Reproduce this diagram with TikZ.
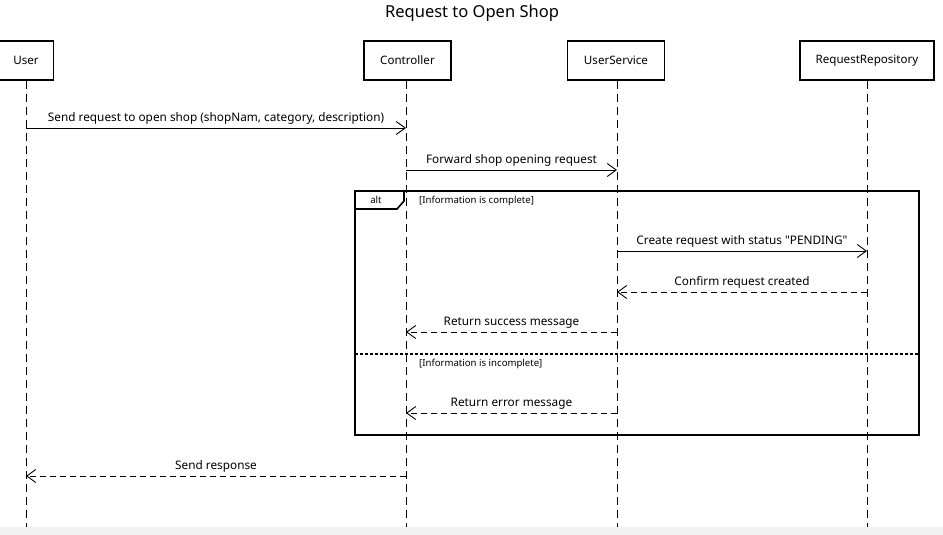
\documentclass[tikz,border=0pt]{standalone}
\usepackage{fontspec}
\setmainfont{Noto Sans}[Ligatures=TeXOff]
\usetikzlibrary{arrows.meta}
\begin{document}
\begin{tikzpicture}[x=1pt,y=-1pt,
  part/.style={draw=black,line width=1.6pt,fill=white,minimum height=39pt,inner sep=0pt,font=\fontsize{11.6}{13}\selectfont},
  life/.style={draw=black,line width=0.9pt,dash pattern=on 8pt off 5pt},
  sync/.style={draw=black,line width=0.9pt,-{Straight Barb[length=9pt,width=13pt,line width=0.9pt]}},
  reply/.style={draw=black,line width=0.9pt,dash pattern=on 6pt off 4pt,-{Straight Barb[length=9pt,width=13pt,line width=0.9pt]}},
  lbl/.style={font=\fontsize{11.8}{13}\selectfont,inner sep=0pt,above=3pt},
  guard/.style={font=\bfseries\fontsize{9.6}{11}\selectfont,anchor=west,inner sep=0pt},
  frame/.style={draw=black,line width=1.6pt}
]
\useasboundingbox (0,0) rectangle (943,535);
\fill[white] (0,0) rectangle (943,527);
\fill[black!5] (0,527) rectangle (943,535);

\node[font=\fontsize{16.5}{19}\selectfont] (title) at (472,13) {Request to Open Shop};

% participants
\node[part,minimum width=55pt] (user) at (26,60.5) {User};
\node[part,minimum width=87pt] (ctrl) at (407.5,60.5) {Controller};
\node[part,minimum width=97pt] (svc) at (616,60.5) {UserService};
\node[part,minimum width=134pt] (repo) at (867,60.5) {RequestRepository};

% lifeline ends
\coordinate (userEnd) at (26,527);
\coordinate (ctrlEnd) at (406,527);
\coordinate (svcEnd) at (617,527);
\coordinate (repoEnd) at (867,527);
\draw[life] (user.south -| userEnd) -- (userEnd);
\draw[life] (ctrl.south -| ctrlEnd) -- (ctrlEnd);
\draw[life] (svc.south -| svcEnd) -- (svcEnd);
\draw[life] (repo.south -| repoEnd) -- (repoEnd);

% alt frame
\coordinate (fTL) at (355,191);
\coordinate (fBR) at (919,435);
\draw[frame] (fTL) rectangle (fBR);
\draw[frame] (355,209) -- (397,209) -- (404,201) -- (404,191);
\node[font=\bfseries\fontsize{9.6}{11}\selectfont,inner sep=0pt] (altlbl) at (376,200) {alt};
\node[guard] (g1) at (419,200.5) {[Information is complete]};
\draw[draw=black,line width=1.6pt,dash pattern=on 3pt off 2pt] (355,354) -- (919,354);
\node[guard] (g2) at (419,363.5) {[Information is incomplete]};

% message endpoints
\coordinate (m1a) at (26,128);  \coordinate (m1b) at (406,128);
\coordinate (m2a) at (406,170); \coordinate (m2b) at (617,170);
\coordinate (m3a) at (617,251); \coordinate (m3b) at (867,251);
\coordinate (m4a) at (867,292); \coordinate (m4b) at (617,292);
\coordinate (m5a) at (617,332); \coordinate (m5b) at (406,332);
\coordinate (m6a) at (617,413); \coordinate (m6b) at (406,413);
\coordinate (m7a) at (406,476); \coordinate (m7b) at (26,476);

\draw[sync] (m1a) -- node[lbl] {Send request to open shop (shopNam, category, description)} (m1b);
\draw[sync] (m2a) -- node[lbl] {Forward shop opening request} (m2b);
\draw[sync] (m3a) -- node[lbl] {Create request with status "PENDING"} (m3b);
\draw[reply] (m4a) -- node[lbl] {Confirm request created} (m4b);
\draw[reply] (m5a) -- node[lbl] {Return success message} (m5b);
\draw[reply] (m6a) -- node[lbl] {Return error message} (m6b);
\draw[reply] (m7a) -- node[lbl] {Send response} (m7b);
\end{tikzpicture}
\end{document}
